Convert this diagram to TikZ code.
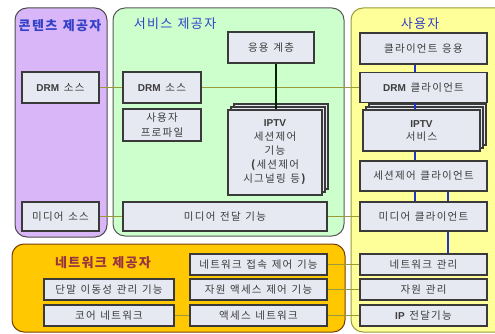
\documentclass[tikz,border=0pt]{standalone}
\usepackage{fontspec}
\setmainfont{Liberation Sans}
\newfontfamily\kr{Noto Sans CJK KR}[LetterSpace=12, WordSpace=1.3]
\newfontfamily\krt{Noto Sans CJK KR}[LetterSpace=10, WordSpace=1.3]
\newfontfamily\arb{Liberation Sans}
\newcommand\lt[1]{{\arb\fontsize{10}{13}\selectfont\bfseries #1}}
\definecolor{purp}{HTML}{D9B6F8}
\definecolor{grn}{HTML}{CCFFCC}
\definecolor{yel}{HTML}{FFFF99}
\definecolor{org}{HTML}{FFC800}
\definecolor{boxfill}{HTML}{E6E8F2}
\definecolor{boxline}{HTML}{3A3A3A}
\definecolor{txt}{HTML}{3C3C3C}
\definecolor{tblue}{HTML}{3340C8}
\definecolor{tred}{HTML}{993344}
\definecolor{olv}{HTML}{9A9A3A}
\definecolor{lblue}{HTML}{2233CC}
\begin{document}
\begin{tikzpicture}[x=1pt,y=-1pt,
  region/.style={line width=1pt, rounded corners=12pt},
  bx/.style={draw=boxline, fill=boxfill, line width=1.1pt, inner sep=1pt,
    font=\kr\fontsize{10.5}{13}\selectfont, text=txt, align=center},
  bxback/.style={draw=boxline, fill=boxfill, line width=1.1pt},
  ttl/.style={font=\krt\fontsize{13}{15}\selectfont, text=tblue, inner sep=0pt},
  olink/.style={draw=olv, line width=1.2pt},
  blink/.style={draw=lblue, line width=1.2pt},
  dlink/.style={draw=black!85!green, line width=1.1pt}]
\useasboundingbox (0,0) rectangle (495,334);
\begin{scope}
\clip (0,0) rectangle (495,334);
\draw[region, fill=purp, draw=black!70] (15,8) rectangle (107,237);
\draw[region, fill=grn, draw=black!65] (113,8) rectangle (344,236);
\draw[region, fill=yel, draw=olv] (351,8) rectangle (510,332);
\draw[region, fill=org, draw=black!40!orange!80!black] (12,244) rectangle (345,332);
\end{scope}

% titles
\node[ttl] (t1) at (60,26) {\bfseries 콘텐츠 제공자};
\node[ttl] (t2) at (175,24) {서비스 제공자};
\node[ttl] (t3) at (420,24) {사용자};
\node[ttl, text=tred] (t4) at (103,263) {\bfseries 네트워크 제공자};

% content provider
\node[bx, minimum width=77, minimum height=31] (cDRM) at (60.5,87.5) {\lt{DRM} 소스};
\node[bx, minimum width=77, minimum height=29] (cMedia) at (60.5,216.5) {미디어 소스};

% service provider
\node[bx, minimum width=78, minimum height=31] (sDRM) at (162,87.5) {\lt{DRM} 소스};
\node[bx, minimum width=78, minimum height=32, font=\kr\fontsize{10.5}{15}\selectfont] (sProf) at (162,125) {사용자\\프로파일};
\node[bx, minimum width=86, minimum height=31] (app) at (271,47.5) {응용 계층};
\foreach \d in {6,3}
  \draw[bxback] (228+\d,110-\d) rectangle (322+\d,195-\d);
\node[bx, minimum width=94, minimum height=85, font=\kr\fontsize{10.5}{14}\selectfont] (sIPTV) at (275,152.5)
  {\lt{IPTV}\\세션제어\\기능\\\textbf{(}세션제어\\시그널링 등\textbf{)}};
\node[bx, minimum width=204, minimum height=29] (sMedia) at (225,216.5) {미디어 전달 기능};

% user
\node[bx, minimum width=127, minimum height=31] (uApp) at (423.5,48.5) {클라이언트 응용};
\node[bx, minimum width=127, minimum height=30] (uDRM) at (423.5,87.5) {\lt{DRM} 클라이언트};
\foreach \d in {6,3}
  \draw[bxback] (363+\d,110-\d) rectangle (480+\d,151-\d);
\node[bx, minimum width=117, minimum height=41] (uIPTV) at (421.5,130.5) {\lt{IPTV}\\서비스};
\node[bx, minimum width=127, minimum height=30] (uSess) at (423.5,176) {세션제어 클라이언트};
\node[bx, minimum width=127, minimum height=29] (uMedia) at (423.5,216.5) {미디어 클라이언트};
\node[bx, minimum width=127, minimum height=21] (uNet) at (423.5,264.5) {네트워크 관리};
\node[bx, minimum width=127, minimum height=21] (uRes) at (423.5,289.5) {자원 관리};
\node[bx, minimum width=127, minimum height=21] (uIP) at (423.5,315.5) {\lt{IP} 전달기능};

% network provider
\node[bx, minimum width=137, minimum height=21] (nAC) at (258.5,264.5) {네트워크 접속 제어 기능};
\node[bx, minimum width=130, minimum height=21] (nMob) at (109,289.5) {단말 이동성 관리 기능};
\node[bx, minimum width=137, minimum height=21] (nRes) at (258.5,289.5) {자원 액세스 제어 기능};
\node[bx, minimum width=130, minimum height=21] (nCore) at (109,315.5) {코어 네트워크};
\node[bx, minimum width=137, minimum height=21] (nAN) at (258.5,315.5) {액세스 네트워크};

% guide coordinates
\coordinate (vA) at (415,0);
\coordinate (vB) at (448,0);
\coordinate (vC) at (276,0);

% olive links
\draw[olink] (cDRM.east) -- (sDRM.west);
\draw[olink] (sDRM.east) -- (uDRM.west);
\draw[olink] (cMedia.east) -- (sMedia.west);
\draw[olink] (sMedia.east) -- (uMedia.west);
\draw[olink] (nAC.east) -- (uNet.west);
\draw[olink] (nRes.east) -- (uRes.west);
\draw[olink] (nAN.east) -- (uIP.west);
\draw[olink] (nCore.east) -- (nAN.west);

% dark link
\draw[dlink] (app.south -| vC) -- (sIPTV.north -| vC);

% blue links
\draw[blink] (uApp.south -| vA) -- (uDRM.north -| vA);
\draw[blink] (uDRM.south -| vA) -- (uIPTV.north -| vA);
\draw[blink] (uIPTV.south -| vA) -- (uSess.north -| vA);
\draw[blink] (uSess.south -| vA) -- (uMedia.north -| vA);
\draw[blink] (uSess.south -| vB) -- (uMedia.north -| vB);
\draw[blink] (uMedia.south -| vB) -- (uNet.north -| vB);
\end{tikzpicture}
\end{document}
